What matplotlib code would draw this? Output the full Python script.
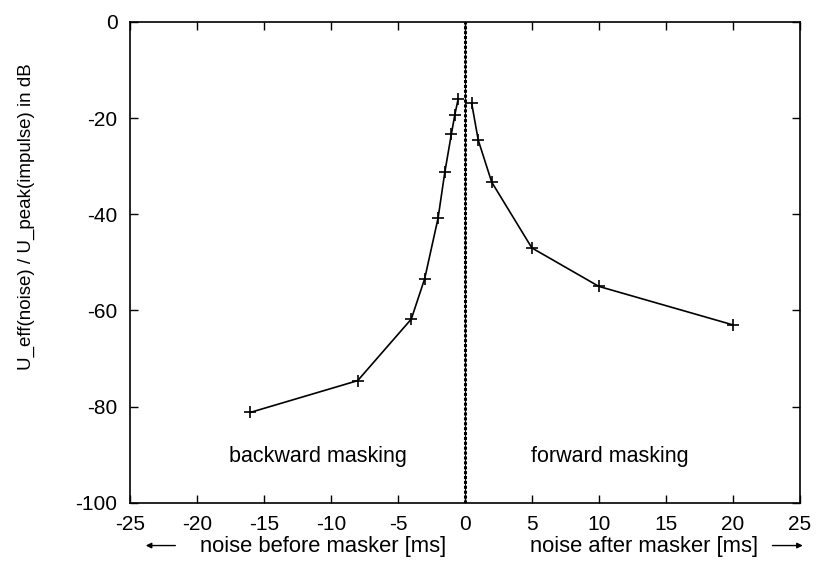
import matplotlib
matplotlib.use("Agg")
import matplotlib.pyplot as plt
from matplotlib.patches import FancyArrowPatch

plt.rcParams["font.family"] = ["Liberation Sans", "DejaVu Sans"]

# backward masking: noise before masker
t_before = [-16, -8, -4, -3, -2, -1.5, -1, -0.75, -0.5]
db_before = [-81.2, -74.6, -61.8, -53.4, -40.8, -31.3, -23.2, -19.3, -16.0]

# forward masking: noise after masker
t_after = [0.5, 1, 2, 5, 10, 20]
db_after = [-16.8, -24.6, -33.3, -47.0, -55.0, -63.0]

x_ticks = [-25, -20, -15, -10, -5, 0, 5, 10, 15, 20, 25]
y_ticks = [0, -20, -40, -60, -80, -100]

fig = plt.figure(figsize=(8.17, 5.63), dpi=100)
ax = fig.add_axes([0.159, 0.107, 0.820, 0.854])

ax.plot(t_before, db_before, color="black", lw=1.2, marker="+", ms=8, mew=1.2)
ax.plot(t_after, db_after, color="black", lw=1.2, marker="+", ms=8, mew=1.2)

# masker position
ax.axvline(0, color="black", lw=2.2, ls=(0, (1.0, 0.6)))
ax.axvline(0, color="black", lw=0.8)

ax.text(-11.0, -90.4, "backward masking", fontsize=15.5, ha="center", va="center")
ax.text(10.8, -90.4, "forward masking", fontsize=15.5, ha="center", va="center")

ax.set_xlim(-25, 25)
ax.set_ylim(-100, 0)
ax.set_xticks(x_ticks)
ax.set_yticks(y_ticks)
ax.set_xticklabels([str(v) for v in x_ticks])
ax.set_yticklabels([str(v) for v in y_ticks])
ax.tick_params(direction="in", length=6, width=1, labelsize=15, pad=9,
               top=True, right=True)
for s in ax.spines.values():
    s.set_linewidth(1.2)

fig.text(0.032, 0.616, "U_eff(noise) / U_peak(impulse) in dB", fontsize=13.5,
         rotation=90, ha="center", va="center")

# axis direction captions below the x tick labels
fig.text(0.245, 0.030, "noise before masker [ms]", fontsize=15.8, ha="left", va="center")
fig.text(0.649, 0.030, "noise after masker [ms]", fontsize=15.8, ha="left", va="center")
fig.add_artist(FancyArrowPatch((0.218, 0.031), (0.175, 0.031),
               transform=fig.transFigure, arrowstyle="-|>", mutation_scale=8,
               color="black", lw=1))
fig.add_artist(FancyArrowPatch((0.942, 0.031), (0.986, 0.031),
               transform=fig.transFigure, arrowstyle="-|>", mutation_scale=8,
               color="black", lw=1))

fig.savefig("out.png", dpi=100)
